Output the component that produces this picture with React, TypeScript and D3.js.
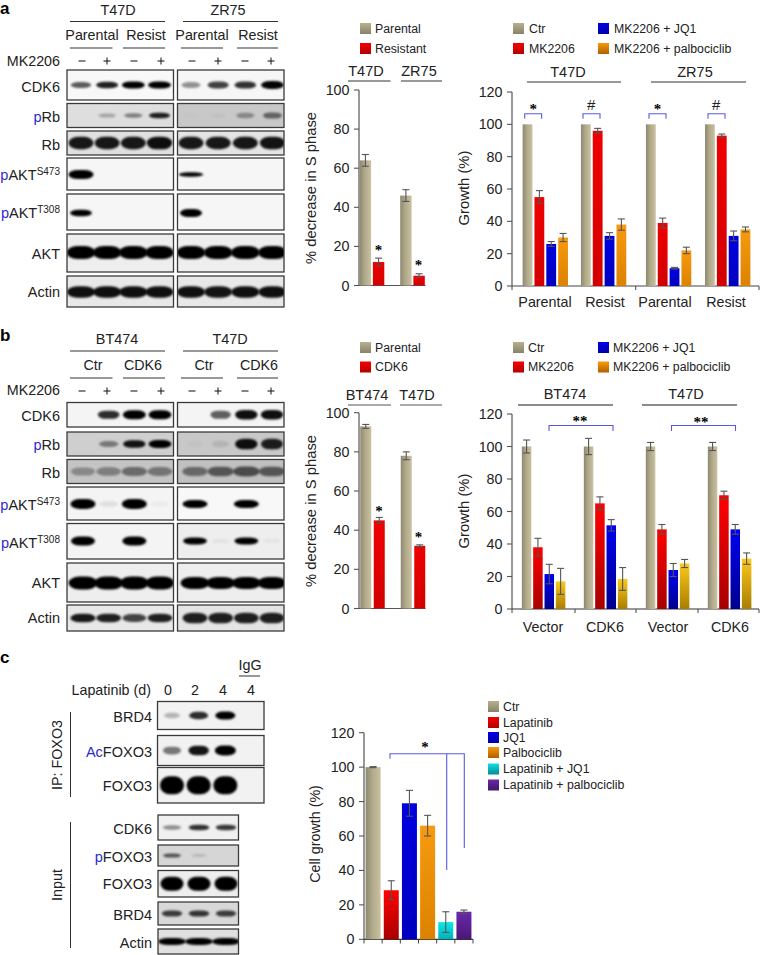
import React from "react";
import * as d3 from "d3";

const FONT = "'Liberation Sans', Arial, Helvetica, sans-serif";
const TXT = "#222";
const BLUE_TXT = "#2a2ad0";
const BRACKET = "#5a5ae0";

/* ---------- bar values ---------- */
const aSeries = ["Ctr", "MK2206", "MK2206 + JQ1", "MK2206 + palbociclib"];
const aGroups = ["Parental", "Resist", "Parental", "Resist"];
const aVals = [[100, 55, 26, 30], [100, 96, 31, 38], [100, 39, 11, 22], [100, 93, 31, 35]];
const aErrs = [[0, 4, 1.5, 2.5], [0, 1.5, 2, 3.5], [0, 3, 0.5, 2], [0, 1, 3, 1.5]];
const aSMidSeries = ["Parental", "Resistant"];
const aSVals = [[64, 12], [46, 5]];
const aSErrs = [[3, 2], [3, 1]];

const bSeries = aSeries;
const bGroups = ["Vector", "CDK6", "Vector", "CDK6"];
const bVals = [[100, 38, 21.5, 17], [100, 65, 51.5, 18.5], [100, 49, 24, 28], [100, 70, 49, 31]];
const bErrs = [[4, 5.5, 6, 8], [5, 4, 3.5, 7], [2.5, 3, 4, 2.5], [2.5, 2.5, 3, 3.5]];
const bSMidSeries = ["Parental", "CDK6"];
const bSVals = [[93, 45], [78, 32]];
const bSErrs = [[1, 1.5], [2, 0.5]];

const cSeries = ["Ctr", "Lapatinib", "JQ1", "Palbociclib", "Lapatinib + JQ1", "Lapatinib + palbociclib"];
const cVals = [100, 28.5, 79, 66, 10, 16];
const cErrs = [0.3, 5.5, 7.5, 6, 6, 1];

const sPhaseTicks = [0, 20, 40, 60, 80, 100];
const growthTicks = [0, 20, 40, 60, 80, 100, 120];

/* ---------- blot band densities, per lane ---------- */
const aCdk6 = [[0.62, 0.85, 1, 1], [0.4, 0.72, 0.78, 0.97]];
const aPRb = [[0, 0.25, 0.42, 0.85], [0.02, 0.04, 0.32, 0.5]];
const aRb = [[0.88, 0.88, 0.88, 0.92], [0.88, 0.88, 0.88, 0.9]];
const aS473 = [[1, 0, 0, 0], [0.95, 0, 0, 0]];
const aT308 = [[0.98, 0, 0, 0], [1, 0, 0, 0]];
const aAkt = [[1, 1, 1, 1], [1, 1, 1, 1]];
const aActin = [[0.92, 0.92, 0.92, 0.92], [0.92, 0.9, 0.92, 0.92]];

const bCdk6 = [[0, 0.8, 1, 0.98], [0, 0.6, 0.92, 0.92]];
const bPRb = [[0, 0.42, 0.9, 1], [0.03, 0.1, 0.92, 0.85]];
const bRb = [[0.3, 0.35, 0.45, 0.4], [0.45, 0.55, 0.6, 0.55]];
const bS473 = [[1, 0.08, 1, 0.03], [1, 0, 1, 0]];
const bT308 = [[1, 0, 1, 0], [0.98, 0.05, 0.98, 0.04]];
const bAkt = [[1, 1, 1, 1], [1, 1, 1, 1]];
const bActin = [[0.88, 0.85, 0.7, 0.85], [0.85, 0.85, 0.85, 0.85]];

const cBrd4Ip = [0.25, 0.8, 1, 0];
const cAcFoxo = [0.5, 0.9, 1, 0];
const cFoxoIp = [1, 1, 1, 0];
const cCdk6 = [0.4, 0.78, 0.75];
const cPFoxo = [0.6, 0.14, 0];
const cFoxoIn = [1, 1, 1];
const cBrd4In = [0.72, 0.75, 0.72];
const cActin = [1, 1, 1];

/* ---------- small helpers ---------- */
const T = (p: any) => <text fontFamily={FONT} fill={TXT} {...p} />;

function Bands({ id, x0, x1, y0, y1, cy, lanes, vals, w, h, bg }: any) {
  return (
    <g>
      <clipPath id={id}><rect x={x0} y={y0} width={x1 - x0} height={y1 - y0} /></clipPath>
      <rect x={x0} y={y0} width={x1 - x0} height={y1 - y0} fill={bg} />
      <g clipPath={`url(#${id})`}>
        {vals.map((s: number, i: number) => {
          if (s <= 0) return null;
          const bw = w * (0.72 + 0.28 * s);
          const bh = h * (0.55 + 0.45 * s);
          return (
            <rect key={i} x={lanes(i) - bw / 2} y={cy - bh / 2} width={bw} height={bh} rx={bw * 0.38} ry={bh / 2}
              fill="#000" fillOpacity={Math.min(1, s * 1.02)} filter="url(#blur)" />
          );
        })}
      </g>
      <rect x={x0} y={y0} width={x1 - x0} height={y1 - y0} fill="none" stroke="#3a3a3a" strokeWidth={1.3} />
    </g>
  );
}

function RowLabel({ x, y, pre, label, sup }: any) {
  return (
    <T x={x} y={y + 5} textAnchor="end" fontSize={14.5}>
      {pre && <tspan fill={BLUE_TXT}>{pre}</tspan>}
      <tspan>{label}</tspan>
      {sup && <tspan fontSize={10} dy={-5.5}>{sup}</tspan>}
    </T>
  );
}

function Blot({ idp, rows, leftX, rightX, laneL, laneR }: any) {
  const L = d3.scalePoint<number>().domain([0, 1, 2, 3]).range(laneL);
  const R = d3.scalePoint<number>().domain([0, 1, 2, 3]).range(laneR);
  return (
    <g>
      {rows.map((r: any, i: number) => (
        <g key={i}>
          <RowLabel x={60} y={r.ly} pre={r.pre} label={r.label} sup={r.sup} />
          <Bands id={`${idp}l${i}`} x0={leftX[0]} x1={leftX[1]} y0={r.y0} y1={r.y1} cy={r.cy ?? (r.y0 + r.y1) / 2}
            lanes={L} vals={r.vals[0]} w={r.w} h={r.hL} bg={r.bg[0]} />
          <Bands id={`${idp}r${i}`} x0={rightX[0]} x1={rightX[1]} y0={r.y0} y1={r.y1} cy={r.cy ?? (r.y0 + r.y1) / 2}
            lanes={R} vals={r.vals[1]} w={r.w} h={r.hR} bg={r.bg[1]} />
        </g>
      ))}
    </g>
  );
}

function BlotHeader({ titles, titleY, titleLineY, subs, subY, subLineY, signY, mkY, lineCol }: any) {
  const signs = [82, 107, 134, 161, 192, 218, 245, 271];
  return (
    <g>
      {titles.map((t: any, i: number) => (
        <g key={i}>
          <T x={t.x} y={titleY} textAnchor="middle" fontSize={14.4}>{t.t}</T>
          <line x1={t.a} x2={t.b} y1={titleLineY} y2={titleLineY} stroke={lineCol} strokeWidth={1} />
        </g>
      ))}
      {subs.map((t: any, i: number) => (
        <g key={i}>
          <T x={t.x} y={subY} textAnchor="middle" fontSize={14.3}>{t.t}</T>
          <line x1={t.a} x2={t.b} y1={subLineY} y2={subLineY} stroke="#333" strokeWidth={1} />
        </g>
      ))}
      <T x={60} y={mkY} textAnchor="end" fontSize={14.3}>MK2206</T>
      {signs.map((x, i) => i % 2 === 0
        ? <line key={i} x1={x - 3.5} x2={x + 3.5} y1={signY} y2={signY} stroke="#222" strokeWidth={1.1} />
        : <g key={i} stroke="#222" strokeWidth={1.1}>
            <line x1={x - 3.5} x2={x + 3.5} y1={signY} y2={signY} />
            <line x1={x} x2={x} y1={signY - 3.5} y2={signY + 3.5} />
          </g>)}
    </g>
  );
}

function Swatch({ x, y, fill, text, tx, w = 11, h = 11, fs = 12.3 }: any) {
  return (
    <g>
      <rect x={x} y={y} width={w} height={h} fill={fill} />
      <T x={tx} y={y + h / 2 + 4.3} fontSize={fs}>{text}</T>
    </g>
  );
}

function YAxis({ y, ticks, x, tickLen = 5, ylabel, ylx, yly, lfs = 14.8 }: any) {
  return (
    <g>
      <line x1={x} x2={x} y1={y(ticks[ticks.length - 1])} y2={y(0)} stroke="#555" strokeWidth={1.2} />
      {ticks.map((t: number) => (
        <g key={t}>
          <line x1={x - tickLen} x2={x} y1={y(t)} y2={y(t)} stroke="#555" strokeWidth={1.1} />
          <T x={x - tickLen - 4.5} y={y(t) + 5} textAnchor="end" fontSize={14.3}>{t}</T>
        </g>
      ))}
      {ylabel && (
        <T transform={`translate(${ylx},${yly}) rotate(-90)`} textAnchor="middle" fontSize={lfs}>{ylabel}</T>
      )}
    </g>
  );
}

function Bar({ x, w, y, v, e, fill, capW = 7 }: any) {
  const cx = x + w / 2;
  return (
    <g>
      <rect x={x} y={y(v)} width={w} height={y(0) - y(v)} fill={fill} />
      {e > 0 && (
        <g stroke="#555" strokeWidth={1.1}>
          <line x1={cx} x2={cx} y1={y(v + e)} y2={y(v - e)} />
          <line x1={cx - capW / 2} x2={cx + capW / 2} y1={y(v + e)} y2={y(v + e)} />
          <line x1={cx - capW / 2} x2={cx + capW / 2} y1={y(v - e)} y2={y(v - e)} />
        </g>
      )}
    </g>
  );
}

function GroupedBars({ vals, errs, centers, step, w, y, fills }: any) {
  return (
    <g>
      {vals.map((g: number[], gi: number) => {
        const n = g.length;
        const band = d3.scaleBand<number>().domain(d3.range(n))
          .range([centers[gi] - (n / 2) * step, centers[gi] + (n / 2) * step]);
        return g.map((v, i) => (
          <Bar key={`${gi}-${i}`} x={band(i)! + (step - w) / 2} w={w} y={y} v={v} e={errs[gi][i]} fill={fills[i]} />
        ));
      })}
    </g>
  );
}

const Star = ({ x, y, s = "*" }: any) => (
  <T x={x} y={y + 7} textAnchor="middle" fontSize={15} fontWeight="bold" fontFamily="'Liberation Serif', serif" fill="#000">{s}</T>
);

const Bracket = ({ x1, x2, y, d = 5 }: any) => (
  <path d={`M${x1},${y + d}V${y}H${x2}V${y + d}`} fill="none" stroke={BRACKET} strokeWidth={1.1} />
);

export default function App() {
  /* panel a */
  const aMidY = d3.scaleLinear().domain([0, 100]).range([285.5, 90]);
  const aRightY = d3.scaleLinear().domain([0, 120]).range([286, 92]);
  /* panel b */
  const bMidY = d3.scaleLinear().domain([0, 100]).range([608.5, 412.7]);
  const bRightY = d3.scaleLinear().domain([0, 120]).range([609, 414]);
  /* panel c */
  const cY = d3.scaleLinear().domain([0, 120]).range([939.3, 732.7]);
  const cX = d3.scaleBand<number>().domain(d3.range(cVals.length)).range([364, 473]);

  const aRows = [
    { label: "CDK6", ly: 87, y0: 70, y1: 100, vals: aCdk6, w: 23, hL: 7, hR: 8, bg: ["#f8f8f8", "#f6f6f6"] },
    { pre: "p", label: "Rb", ly: 117, y0: 103.5, y1: 127.5, vals: aPRb, w: 22, hL: 6, hR: 8, bg: ["#dedede", "#c8c8c8"] },
    { label: "Rb", ly: 145, y0: 131, y1: 155, vals: aRb, w: 26, hL: 13, hR: 13, bg: ["#e0e0e0", "#e4e4e4"] },
    { pre: "p", label: "AKT", sup: "S473", ly: 175, y0: 158, y1: 190, cy: 174.5, vals: aS473, w: 25, hL: 9, hR: 4.5, bg: ["#f6f6f6", "#f6f6f6"] },
    { pre: "p", label: "AKT", sup: "T308", ly: 213, y0: 194, y1: 230, cy: 213, vals: aT308, w: 22, hL: 6.5, hR: 8, bg: ["#f6f6f6", "#f6f6f6"] },
    { label: "AKT", ly: 254, y0: 234, y1: 272, cy: 252.5, vals: aAkt, w: 29, hL: 13, hR: 13, bg: ["#eeeeee", "#eeeeee"] },
    { label: "Actin", ly: 292, y0: 276, y1: 307, cy: 292, vals: aActin, w: 29, hL: 12, hR: 12, bg: ["#e8e8e8", "#e8e8e8"] },
  ];
  const bRows = [
    { label: "CDK6", ly: 416, y0: 402.5, y1: 427, vals: bCdk6, w: 23, hL: 9, hR: 10, bg: ["#f4f4f4", "#f4f4f4"] },
    { pre: "p", label: "Rb", ly: 445, y0: 432, y1: 456, vals: bPRb, w: 23, hL: 8, hR: 11, bg: ["#cfcfcf", "#c8c8c8"] },
    { label: "Rb", ly: 473, y0: 459.5, y1: 483.5, vals: bRb, w: 30, hL: 12, hR: 12, bg: ["#c4c4c4", "#c0c0c0"] },
    { pre: "p", label: "AKT", sup: "S473", ly: 505, y0: 487, y1: 520, cy: 504, vals: bS473, w: 25, hL: 10, hR: 8, bg: ["#f4f4f4", "#f8f8f8"] },
    { pre: "p", label: "AKT", sup: "T308", ly: 543, y0: 523.5, y1: 559, cy: 541, vals: bT308, w: 24, hL: 9, hR: 7, bg: ["#f4f4f4", "#eeeeee"] },
    { label: "AKT", ly: 583, y0: 563, y1: 602, cy: 583, vals: bAkt, w: 29, hL: 13, hR: 12, bg: ["#eeeeee", "#eeeeee"] },
    { label: "Actin", ly: 618, y0: 605, y1: 631, cy: 618, vals: bActin, w: 26, hL: 9, hR: 11, bg: ["#e8e8e8", "#e4e4e4"] },
  ];
  const cTopRows = [
    { label: "BRD4", pre: "", ly: 717, y0: 701.5, y1: 729.5, vals: cBrd4Ip, w: 20, h: 8, bg: "#f2f2f2" },
    { label: "FOXO3", pre: "Ac", ly: 752, y0: 735.5, y1: 765.5, vals: cAcFoxo, w: 21, h: 10, bg: "#f2f2f2" },
    { label: "FOXO3", pre: "", ly: 786, y0: 767.5, y1: 803, vals: cFoxoIp, w: 24, h: 18, bg: "#f2f2f2" },
  ];
  const cInRows = [
    { label: "CDK6", pre: "", ly: 829, y0: 815, y1: 840, vals: cCdk6, w: 22, h: 6, bg: "#f0f0f0" },
    { label: "FOXO3", pre: "p", ly: 857, y0: 845, y1: 866, vals: cPFoxo, w: 20, h: 5, bg: "#d6d6d6" },
    { label: "FOXO3", pre: "", ly: 884, y0: 870.5, y1: 897, vals: cFoxoIn, w: 23, h: 14, bg: "#eeeeee" },
    { label: "BRD4", pre: "", ly: 915, y0: 902, y1: 925, vals: cBrd4In, w: 22, h: 7, bg: "#d8d8d8" },
    { label: "Actin", pre: "", ly: 943, y0: 929, y1: 954, vals: cActin, w: 28, h: 7, bg: "#e0e0e0" },
  ];
  const cLanesTop = d3.scalePoint<number>().domain([0, 1, 2, 3]).range([172, 252]);
  const cLanesIn = d3.scalePoint<number>().domain([0, 1, 2]).range([172, 226]);

  const fA = ["url(#gBeigeH)", "url(#gRedA)", "url(#gBlueA)", "url(#gOrangeA)"];
  const fB = ["url(#gBeigeH)", "url(#gRedB)", "url(#gBlueB)", "url(#gYellowB)"];
  const fC = ["url(#gBeigeH)", "url(#gRedB)", "url(#gBlueA)", "url(#gOrangeA)", "url(#gCyan)", "url(#gPurple)"];
  const swA = ["url(#sBeige)", "url(#sRed)", "url(#sBlue)", "url(#sOrange)"];
  const swC = ["url(#sBeige)", "url(#sRed)", "url(#sBlue)", "url(#sOrange)", "url(#sCyan)", "url(#sPurple)"];

  const grad = (id: string, top: string, bot: string) => (
    <linearGradient id={id} x1="0" y1="0" x2="0" y2="1" key={id}>
      <stop offset="0" stopColor={top} /><stop offset="1" stopColor={bot} />
    </linearGradient>
  );

  return (
    <svg width={760} height={955} viewBox="0 0 760 955"
      style={{ position: "absolute", left: 0, top: 0, background: "#fff", display: "block" }}>
      <defs>
        <filter id="blur" x="-30%" y="-80%" width="160%" height="260%"><feGaussianBlur stdDeviation="1.1" /></filter>
        <linearGradient id="gBeigeH" x1="0" y1="0" x2="1" y2="0">
          <stop offset="0" stopColor="#8d8870" /><stop offset="0.45" stopColor="#b0a98a" /><stop offset="1" stopColor="#c9c1a0" />
        </linearGradient>
        {grad("gRedA", "#f00000", "#d20000")}
        {grad("gBlueA", "#0000e0", "#0000c0")}
        {grad("gOrangeA", "#f79a10", "#dc8200")}
        {grad("gRedB", "#ff0000", "#a80000")}
        {grad("gBlueB", "#0000f0", "#000090")}
        {grad("gYellowB", "#fcc81e", "#a87e00")}
        {grad("gCyan", "#10e8e8", "#00b0b8")}
        {grad("gPurple", "#6a28a8", "#4a1878")}
        {grad("sBeige", "#b8b08f", "#878269")}
        {grad("sRed", "#f40000", "#b40000")}
        {grad("sBlue", "#0000e8", "#0000a8")}
        {grad("sOrange", "#f89a08", "#b06000")}
        {grad("sCyan", "#10e0e0", "#008c98")}
        {grad("sPurple", "#6a28a8", "#40186c")}
      </defs>

      {/* letters */}
      <T x={0} y={14} fontSize={17} fontWeight="bold" fill="#000">a</T>
      <T x={0} y={341} fontSize={17} fontWeight="bold" fill="#000">b</T>
      <T x={0} y={663} fontSize={17} fontWeight="bold" fill="#000">c</T>

      {/* ---------- panel a blots ---------- */}
      <BlotHeader
        titles={[{ t: "T47D", x: 118, a: 70, b: 165 }, { t: "ZR75", x: 228, a: 183, b: 278 }]}
        titleY={15} titleLineY={21.5}
        subs={[
          { t: "Parental", x: 92, a: 70, b: 112.5 }, { t: "Resist", x: 146, a: 123, b: 165 },
          { t: "Parental", x: 202, a: 181, b: 223 }, { t: "Resist", x: 258, a: 237, b: 278 }]}
        subY={40} subLineY={48} signY={61} mkY={66} lineCol="#333" />
      <Blot idp="a" rows={aRows} leftX={[67, 173.5]} rightX={[177.5, 284]} laneL={[81, 159.5]} laneR={[191, 272.5]} />

      {/* ---------- panel a middle ---------- */}
      {aSMidSeries.map((s, i) => (
        <Swatch key={s} x={360} y={23 + i * 20} fill={swA[i]} text={s} tx={375} />
      ))}
      <T x={366} y={76} textAnchor="middle" fontSize={14.5}>T47D</T>
      <line x1={348} x2={390.5} y1={81} y2={81} stroke="#333" />
      <T x={419} y={76} textAnchor="middle" fontSize={14.5}>ZR75</T>
      <line x1={401} x2={442} y1={81} y2={81} stroke="#333" />
      <YAxis y={aMidY} ticks={sPhaseTicks} x={359} ylabel="% decrease in S phase" ylx={316} yly={188} />
      <line x1={355} x2={425.5} y1={aMidY(0)} y2={aMidY(0)} stroke="#555" strokeWidth={1.2} />
      <GroupedBars vals={aSVals} errs={aSErrs} centers={[372, 412.5]} step={13.2} w={11.4} y={aMidY} fills={["url(#gBeigeH)", "url(#gRedA)"]} />
      <Star x={378.5} y={248} /><Star x={418.5} y={263} />

      {/* ---------- panel a right ---------- */}
      {aSeries.map((s, i) => (
        <Swatch key={s} x={i < 2 ? 513 : 598} y={23 + (i % 2) * 20} fill={swA[i]} text={s} tx={i < 2 ? 529 : 614} />
      ))}
      <T x={568} y={77} textAnchor="middle" fontSize={14.5}>T47D</T>
      <line x1={527} x2={621} y1={82} y2={82} stroke="#333" />
      <T x={695} y={77} textAnchor="middle" fontSize={14.5}>ZR75</T>
      <line x1={651} x2={746} y1={82} y2={82} stroke="#333" />
      <YAxis y={aRightY} ticks={growthTicks} x={512} ylabel="Growth (%)" ylx={469} yly={188} />
      <line x1={512} x2={759} y1={aRightY(0)} y2={aRightY(0)} stroke="#444" strokeWidth={1.2} />
      {[512, 635.7, 759].map(x => <line key={x} x1={x} x2={x} y1={286} y2={290} stroke="#444" />)}
      <GroupedBars vals={aVals} errs={aErrs} centers={[545.3, 603.6, 668.6, 727.7]} step={11.85} w={9.8} y={aRightY} fills={fA} />
      {[[524.7, 541.6, "*"], [583, 600, "#"], [649, 666, "*"], [708, 725, "#"]].map(([a, b, s]: any, i) => (
        <g key={i}>
          <Bracket x1={a} x2={b} y={113.7} d={5} />
          {s === "*" ? <Star x={(a + b) / 2} y={107} />
            : <T x={(a + b) / 2 - 0.5} y={110} textAnchor="middle" fontSize={15} fontStyle="italic">#</T>}
        </g>
      ))}
      {aGroups.map((g, i) => (
        <T key={i} x={[545, 605, 665, 726][i]} y={307} textAnchor="middle" fontSize={14.3}>{g}</T>
      ))}

      {/* ---------- panel b blots ---------- */}
      <BlotHeader
        titles={[{ t: "BT474", x: 117, a: 70, b: 165 }, { t: "T47D", x: 230, a: 183, b: 278 }]}
        titleY={344} titleLineY={351}
        subs={[
          { t: "Ctr", x: 93, a: 70, b: 112.5 }, { t: "CDK6", x: 143, a: 123, b: 165 },
          { t: "Ctr", x: 204, a: 181, b: 223 }, { t: "CDK6", x: 259, a: 237, b: 278 }]}
        subY={370} subLineY={378} signY={391} mkY={395} lineCol="#333" />
      <Blot idp="b" rows={bRows} leftX={[67, 173.5]} rightX={[177.5, 284]} laneL={[83, 160]} laneR={[195, 272]} />

      {/* ---------- panel b middle ---------- */}
      {bSMidSeries.map((s, i) => (
        <Swatch key={s} x={360} y={342 + i * 19.5} fill={swA[i]} text={s} tx={375} />
      ))}
      <T x={367} y={400} textAnchor="middle" fontSize={14.5}>BT474</T>
      <line x1={348} x2={391} y1={405} y2={405} stroke="#555" />
      <T x={417} y={400} textAnchor="middle" fontSize={14.5}>T47D</T>
      <line x1={400} x2={442} y1={405} y2={405} stroke="#555" />
      <YAxis y={bMidY} ticks={sPhaseTicks} x={359} ylabel="% decrease in S phase" ylx={316} yly={511} />
      <line x1={355} x2={425.5} y1={bMidY(0)} y2={bMidY(0)} stroke="#555" strokeWidth={1.2} />
      <GroupedBars vals={bSVals} errs={bSErrs} centers={[372.5, 413]} step={13.5} w={11} y={bMidY} fills={["url(#gBeigeH)", "url(#gRedA)"]} />
      <Star x={379} y={509} /><Star x={418.5} y={534.5} />

      {/* ---------- panel b right ---------- */}
      {bSeries.map((s, i) => (
        <Swatch key={s} x={i < 2 ? 513 : 598} y={342 + (i % 2) * 19.5} fill={swA[i]} text={s} tx={i < 2 ? 528 : 613} />
      ))}
      <T x={565} y={399} textAnchor="middle" fontSize={14.5}>BT474</T>
      <line x1={518} x2={613} y1={405} y2={405} stroke="#666" strokeWidth={1.4} />
      <T x={686} y={399} textAnchor="middle" fontSize={14.5}>T47D</T>
      <line x1={642} x2={737} y1={405} y2={405} stroke="#666" strokeWidth={1.4} />
      <YAxis y={bRightY} ticks={growthTicks} x={512} ylabel="Growth (%)" ylx={469} yly={511} />
      <line x1={512} x2={759} y1={bRightY(0)} y2={bRightY(0)} stroke="#333" strokeWidth={1.2} />
      {[512, 575, 636, 698, 759].map(x => <line key={x} x1={x} x2={x} y1={609} y2={613} stroke="#444" />)}
      <GroupedBars vals={bVals} errs={bErrs} centers={[543.6, 605.6, 667.6, 729.6]} step={11.35} w={9.5} y={bRightY} fills={fB} />
      <Bracket x1={549} x2={613} y={425.5} d={5.5} /><Star x={580} y={419} s="**" />
      <Bracket x1={671.5} x2={735.5} y={425.5} d={5.5} /><Star x={701} y={419.5} s="**" />
      {bGroups.map((g, i) => (
        <T key={i} x={[543, 605, 668, 730][i]} y={632} textAnchor="middle" fontSize={14.3}>{g}</T>
      ))}

      {/* ---------- panel c blots ---------- */}
      <T x={250} y={670} textAnchor="middle" fontSize={14.3}>IgG</T>
      <line x1={239} x2={260} y1={676} y2={676} stroke="#333" />
      <T x={151} y={695} textAnchor="end" fontSize={14.3}>Lapatinib (d)</T>
      {["0", "2", "4", "4"].map((s, i) => (
        <T key={i} x={[168, 195, 223, 251][i]} y={695} textAnchor="middle" fontSize={14.3}>{s}</T>
      ))}
      {cTopRows.map((r, i) => (
        <g key={i}>
          <RowLabel x={152} y={r.ly} pre={r.pre} label={r.label} />
          <Bands id={`ct${i}`} x0={157.5} x1={264} y0={r.y0} y1={r.y1} cy={(r.y0 + r.y1) / 2} lanes={cLanesTop} vals={r.vals} w={r.w} h={r.h} bg={r.bg} />
        </g>
      ))}
      {cInRows.map((r, i) => (
        <g key={i}>
          <RowLabel x={152} y={r.ly} pre={r.pre} label={r.label} />
          <Bands id={`ci${i}`} x0={158} x1={238.5} y0={r.y0} y1={r.y1} cy={(r.y0 + r.y1) / 2} lanes={cLanesIn} vals={r.vals} w={r.w} h={r.h} bg={r.bg} />
        </g>
      ))}
      <line x1={70.5} x2={70.5} y1={712} y2={797} stroke="#333" />
      <line x1={70.5} x2={70.5} y1={822} y2={948} stroke="#333" />
      <T transform="translate(62,755) rotate(-90)" textAnchor="middle" fontSize={14.3}>IP: FOXO3</T>
      <T transform="translate(62,885) rotate(-90)" textAnchor="middle" fontSize={14.3}>Input</T>

      {/* ---------- panel c chart ---------- */}
      <YAxis y={cY} ticks={growthTicks} x={364} ylabel="Cell growth (%)" ylx={320} yly={834} lfs={14.3} />
      <line x1={364} x2={473} y1={cY(0)} y2={cY(0)} stroke="#333" strokeWidth={1.2} />
      {d3.range(cVals.length + 1).map(i => {
        const x = 364 + i * cX.step();
        return <line key={i} x1={x} x2={x} y1={939.3} y2={943.5} stroke="#444" />;
      })}
      {cVals.map((v, i) => (
        <Bar key={i} x={cX(i)! + 1.6} w={15} y={cY} v={v} e={cErrs[i]} fill={fC[i]} />
      ))}
      <path d="M390,758.7V753.7H464.3V848M446.7,753.7V870" fill="none" stroke={BRACKET} strokeWidth={1.1} />
      <Star x={425} y={745} />
      {cSeries.map((s, i) => (
        <Swatch key={s} x={488} y={701 + [0, 16, 31, 46, 62.5, 78.5][i]} fill={swC[i]} text={s} tx={503} />
      ))}
    </svg>
  );
}
